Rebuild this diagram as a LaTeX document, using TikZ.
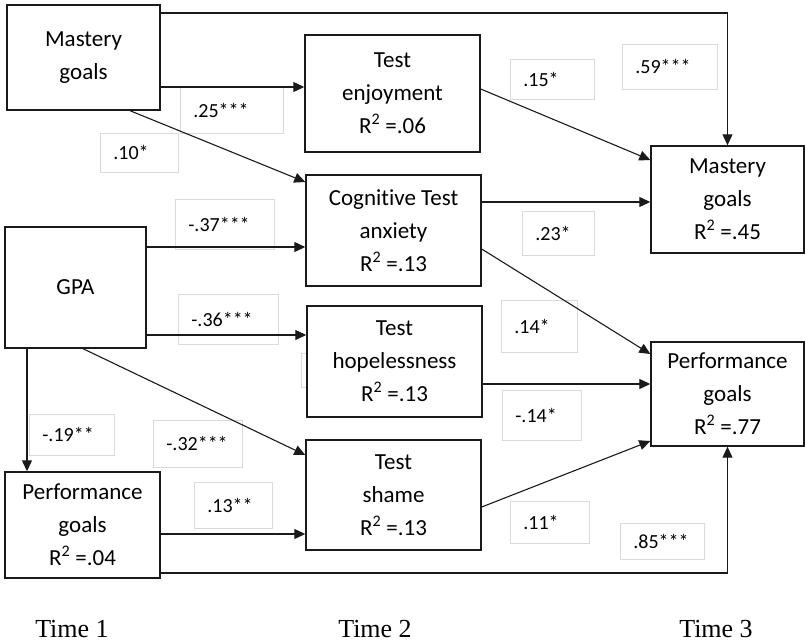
\documentclass[tikz,border=0pt]{standalone}
\usepackage{fontspec}
\setmainfont{Carlito}[Ligatures=NoCommon]
\newfontfamily\timesfont{Liberation Serif}
\usetikzlibrary{arrows.meta}
\definecolor{ink}{HTML}{1A1A1A}
\definecolor{lgray}{HTML}{DADADA}
\begin{document}
\begin{tikzpicture}[x=1bp,y=-1bp,
 box/.style={draw=ink, line width=1.4bp, fill=white, align=center, inner sep=0pt, font=\fontsize{23bp}{33bp}\selectfont},
 lbox/.style={draw=lgray, line width=0.7bp, anchor=north west, align=left, inner xsep=13bp, inner ysep=0pt, font=\fontsize{20bp}{23bp}\selectfont},
 arr/.style={draw=ink, line width=1.1bp, -{Triangle[length=11bp,width=10bp]}},
 tlabel/.style={font=\timesfont\fontsize{26bp}{30bp}\selectfont, inner sep=0pt, anchor=base}]
\useasboundingbox (0,0) rectangle (805,642);
% coefficient label boxes
\node[lbox, text width=77bp, minimum height=46bp] (l25) at (180,87) {.25***};
\node[lbox, text width=52bp, minimum height=39bp] (l10) at (100,133) {.10*};
\node[lbox, text width=58bp, minimum height=40bp] (l15) at (510,59) {.15*};
\node[lbox, text width=69bp, minimum height=45bp] (l59) at (622,44) {.59***};
\node[lbox, text width=73bp, minimum height=50bp] (l37) at (175,199) {-.37***};
\node[lbox, text width=46bp, minimum height=44bp] (l23) at (522,211) {.23*};
\node[lbox, text width=74bp, minimum height=50bp] (l36) at (178,294) {-.36***};
\node[lbox, text width=14bp, minimum height=34bp] (lh) at (301,353) {};
\node[lbox, text width=50bp, minimum height=52bp] (l14) at (501,300) {.14*};
\node[lbox, text width=53bp, minimum height=50bp] (lm14) at (502,390) {-.14*};
\node[lbox, text width=59bp, minimum height=41bp] (l19) at (29,414) {-.19**};
\node[lbox, text width=63bp, minimum height=47bp] (l32) at (153,420) {-.32***};
\node[lbox, text width=52bp, minimum height=46bp] (l13) at (194,482) {.13**};
\node[lbox, text width=53bp, minimum height=42bp] (l11) at (510,501) {.11*};
\node[lbox, text width=58bp, minimum height=36bp] (l85) at (620,523) {.85***};
% main boxes
\node[box, minimum width=153bp, minimum height=105bp] (mg1) at (83.5,57.5) {Mastery\\goals};
\node[box, minimum width=141bp, minimum height=121bp] (gpa) at (75.5,287.5) {GPA};
\node[box, minimum width=155bp, minimum height=106bp] (pg1) at (82.5,525) {Performance\\goals\\R\textsuperscript{2} =.04};
\node[box, minimum width=175bp, minimum height=117bp] (enj) at (392.5,93.5) {Test\\enjoyment\\R\textsuperscript{2} =.06};
\node[box, minimum width=175bp, minimum height=111bp] (cta) at (393.5,230.5) {Cognitive Test\\anxiety\\R\textsuperscript{2} =.13};
\node[box, minimum width=175bp, minimum height=111bp] (hop) at (394.5,361.5) {Test\\hopelessness\\R\textsuperscript{2} =.13};
\node[box, minimum width=175bp, minimum height=110bp] (sha) at (393.5,495) {Test\\shame\\R\textsuperscript{2} =.13};
\node[box, minimum width=153bp, minimum height=107bp] (mg3) at (727.5,199.5) {Mastery\\goals\\R\textsuperscript{2} =.45};
\node[box, minimum width=153bp, minimum height=104bp] (pg3) at (727.5,394) {Performance\\goals\\R\textsuperscript{2} =.77};
% connectors
\draw[arr] (mg1.east |- 0,13) -| (mg3.north);
\draw[arr] (mg1.east |- 0,87) -- (enj.west |- 0,87);
\draw[arr] (mg1.south -| 130,0) -- (cta.west |- 0,182);
\draw[arr] (gpa.east |- 0,247) -- (cta.west |- 0,247);
\draw[arr] (gpa.east |- 0,335) -- (hop.west |- 0,335);
\draw[arr] (gpa.south -| 27,0) -- (pg1.north -| 27,0);
\draw[arr] (gpa.south -| 83,0) -- (sha.west |- 0,455);
\draw[arr] (pg1.east |- 0,534) -- (sha.west |- 0,534);
\draw[arr] (pg1.east |- 0,573) -| (pg3.south);
\draw[arr] (enj.east |- 0,89) -- (mg3.west |- 0,160);
\draw[arr] (cta.east |- 0,202) -- (mg3.west |- 0,202);
\draw[arr] (cta.east |- 0,249) -- (pg3.west |- 0,354);
\draw[arr] (hop.east |- 0,384) -- (pg3.west |- 0,384);
\draw[arr] (sha.east |- 0,507) -- (pg3.west |- 0,441);
% time labels
\node[tlabel] (t1) at (72,637) {Time 1};
\node[tlabel] (t2) at (375,637) {Time 2};
\node[tlabel] (t3) at (716,637) {Time 3};
\end{tikzpicture}
\end{document}
